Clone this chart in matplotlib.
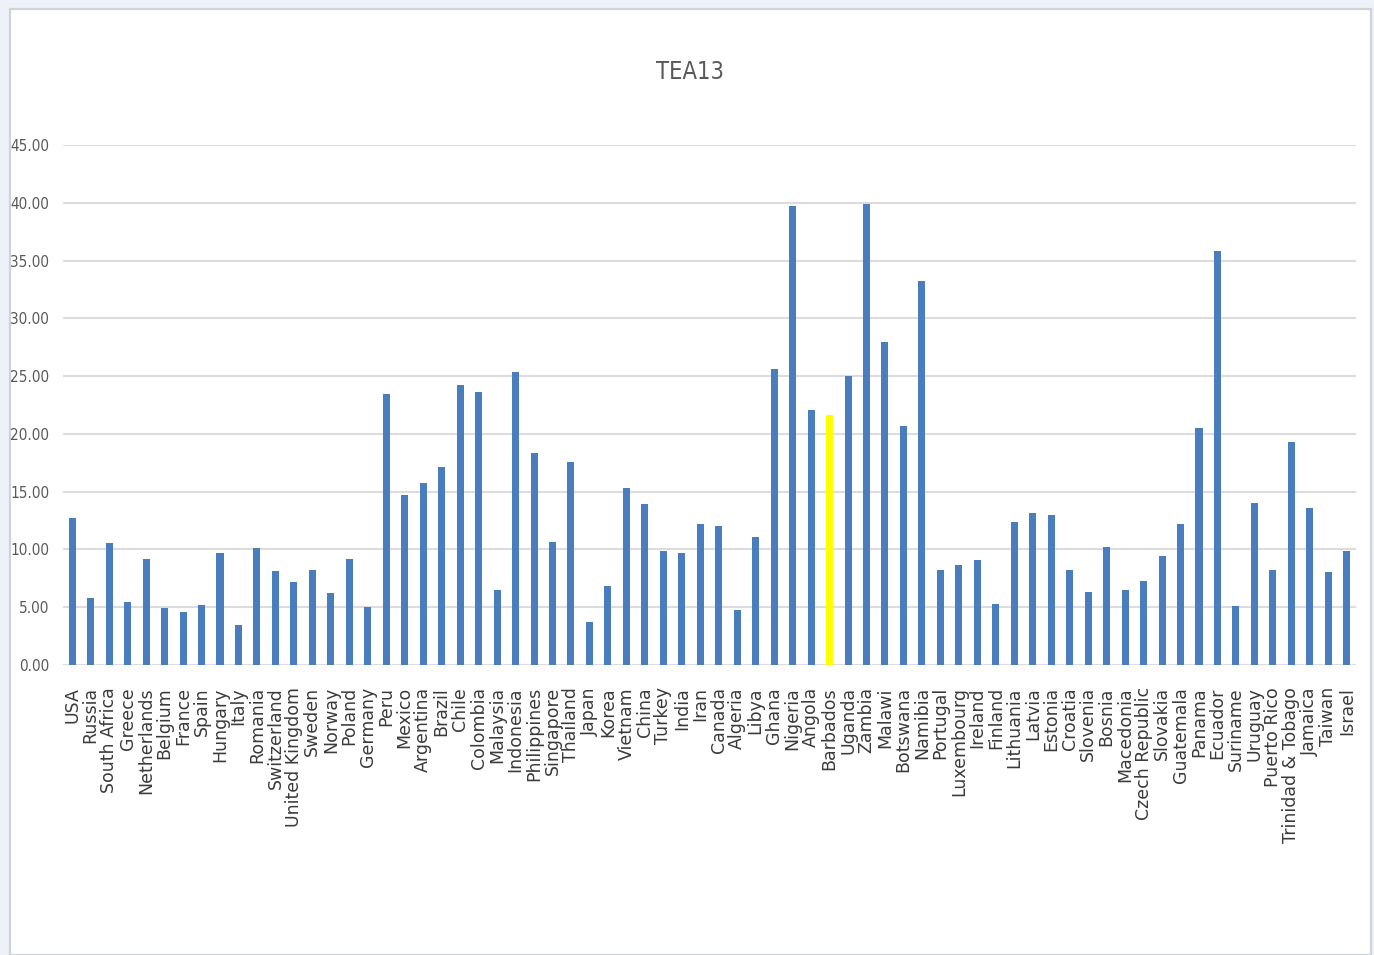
import matplotlib
matplotlib.use("Agg")
import matplotlib.pyplot as plt
from matplotlib.patches import Rectangle

# TEA13 rates by country
countries = [
    "USA", "Russia", "South Africa", "Greece", "Netherlands", "Belgium", "France",
    "Spain", "Hungary", "Italy", "Romania", "Switzerland", "United Kingdom",
    "Sweden", "Norway", "Poland", "Germany", "Peru", "Mexico", "Argentina",
    "Brazil", "Chile", "Colombia", "Malaysia", "Indonesia", "Philippines",
    "Singapore", "Thailand", "Japan", "Korea", "Vietnam", "China", "Turkey",
    "India", "Iran", "Canada", "Algeria", "Libya", "Ghana", "Nigeria", "Angola",
    "Barbados", "Uganda", "Zambia", "Malawi", "Botswana", "Namibia", "Portugal",
    "Luxembourg", "Ireland", "Finland", "Lithuania", "Latvia", "Estonia",
    "Croatia", "Slovenia", "Bosnia", "Macedonia", "Czech Republic", "Slovakia",
    "Guatemala", "Panama", "Ecuador", "Suriname", "Uruguay", "Puerto Rico",
    "Trinidad & Tobago", "Jamaica", "Taiwan", "Israel",
]
tea13 = [
    12.74, 5.78, 10.58, 5.47, 9.19, 4.89, 4.55,
    5.17, 9.65, 3.46, 10.11, 8.10, 7.18,
    8.26, 6.25, 9.19, 5.01, 23.41, 14.72, 15.75,
    17.14, 24.25, 23.63, 6.49, 25.33, 18.38,
    10.66, 17.61, 3.71, 6.80, 15.29, 13.90, 9.88,
    9.73, 12.20, 12.05, 4.79, 11.12, 25.64, 39.69, 22.08,
    21.62, 25.02, 39.90, 27.95, 20.69, 33.20, 8.19,
    8.65, 9.11, 5.25, 12.36, 13.13, 12.97,
    8.19, 6.33, 10.19, 6.49, 7.26, 9.42,
    12.20, 20.54, 35.83, 5.10, 14.05, 8.19,
    19.31, 13.59, 8.03, 9.88,
]
highlight = "Barbados"
y_ticks = [0, 5, 10, 15, 20, 25, 30, 35, 40, 45]
y_tick_labels = ["0.00", "5.00", "10.00", "15.00", "20.00", "25.00",
                 "30.00", "35.00", "40.00", "45.00"]

W, H = 1374, 955
fig = plt.figure(figsize=(W / 100, H / 100), dpi=100, facecolor="#eef2f8")

# white chart panel with a soft grey frame, kept behind the axes
panel = Rectangle((10 / W, 0), (1371 - 10) / W, (H - 9) / H,
                  transform=fig.transFigure, facecolor="white",
                  edgecolor="#cfd2d6", linewidth=1.6, zorder=-5)
fig.patches.append(panel)

narrow = ["DejaVu Sans"]

ax = fig.add_axes([63 / W, 1 - 665 / H, (1356 - 63) / W, (665 - 145) / H])
ax.set_facecolor("none")
ax.set_zorder(2)

x = list(range(len(countries)))
colors = ["#ffff00" if c == highlight else "#4a7dbd" for c in countries]
ax.bar(x, tea13, width=0.38, color=colors, zorder=3)

ax.set_xlim(-0.5, len(countries) - 0.5)
ax.set_ylim(0, 45)
ax.set_yticks(y_ticks)
ax.set_yticklabels(y_tick_labels, family=narrow, fontstretch="condensed",
                   fontsize=11, color="#595959")
ax.set_xticks(x)
ax.set_xticklabels(countries, rotation=90, ha="center", va="top",
                   fontsize=12.5, color="#3a3a3a", family="DejaVu Sans")
ax.tick_params(axis="both", length=0)
ax.tick_params(axis="y", pad=10)
ax.tick_params(axis="x", pad=16)

ax.grid(axis="y", color="#dcdcdc", linewidth=1.5, zorder=0)
for side in ["top", "right", "left", "bottom"]:
    ax.spines[side].set_visible(False)

fig.text(690 / W, 1 - 72 / H, "TEA13", ha="center", va="center",
         family=narrow, fontstretch="condensed", fontsize=17, color="#595959")

fig.savefig("out.png", dpi=100, facecolor=fig.get_facecolor())
